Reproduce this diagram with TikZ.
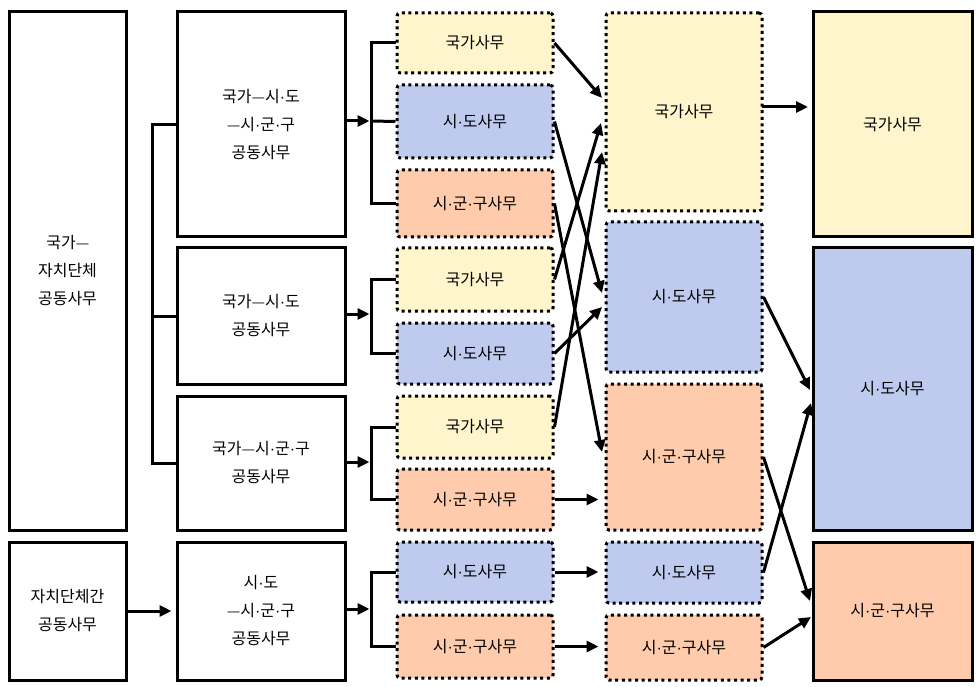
\documentclass[tikz,border=0pt]{standalone}
\usepackage{fontspec}
\setmainfont{Noto Sans CJK KR}
\newfontfamily\latf{Liberation Sans}
\usetikzlibrary{arrows.meta}
\definecolor{yel}{HTML}{FFF5CC}
\definecolor{blu}{HTML}{BFCBEE}
\definecolor{ora}{HTML}{FECCAC}
\newcommand\kdot{{\latf ·}}
\newcommand\kdash{\hspace{0.8pt}\raisebox{1pt}{\fontsize{12}{12}\selectfont\latf —}\hspace{0.8pt}}
\tikzset{
  base/.style={rectangle, inner sep=0pt, align=center, font=\fontsize{16}{28}\selectfont},
  solidbox/.style={base, draw=black, line width=3pt},
  dotbox/.style={base, draw=black, line width=3pt, dash pattern=on 3pt off 3.6pt, rounded corners=3pt},
  Y/.style={dotbox, fill=yel},
  B/.style={dotbox, fill=blu},
  O/.style={dotbox, fill=ora},
  conn/.style={line width=3pt},
  arr/.style={line width=3pt, -{Triangle[length=12pt,width=11pt]}},
}
\newcommand\mkbox[7]{\node[#1, minimum width={(#5-#3)*1pt}, minimum height={(#6-#4)*1pt}] (#2) at ({(#3+#5)/2},{(#4+#6)/2}) {#7};}
\begin{document}
\begin{tikzpicture}[x=1pt,y=-1pt]
\useasboundingbox (0,0) rectangle (980,687);
% column 1
\mkbox{solidbox}{A}{9}{12}{126}{530}{국가\kdash\\자치단체\\공동사무}
\mkbox{solidbox}{Bx}{9}{542}{126}{680}{자치단체간\\공동사무}
% column 2
\mkbox{solidbox}{C1}{177}{12}{345}{237}{국가\kdash 시\kdot 도\\\kdash 시\kdot 군\kdot 구\\공동사무}
\mkbox{solidbox}{C2}{177}{248}{345}{384}{국가\kdash 시\kdot 도\\공동사무}
\mkbox{solidbox}{C3}{177}{396}{345}{530}{국가\kdash 시\kdot 군\kdot 구\\공동사무}
\mkbox{solidbox}{C4}{177}{542}{345}{680}{시\kdot 도\\\kdash 시\kdot 군\kdot 구\\공동사무}
% column 3
\mkbox{Y}{D1}{397}{13}{553}{73}{국가사무}
\mkbox{B}{D2}{397}{85}{553}{158}{시\kdot 도사무}
\mkbox{O}{D3}{397}{170}{553}{237}{시\kdot 군\kdot 구사무}
\mkbox{Y}{D4}{397}{248}{553}{311}{국가사무}
\mkbox{B}{D5}{397}{323}{553}{384}{시\kdot 도사무}
\mkbox{Y}{D6}{397}{396}{553}{458}{국가사무}
\mkbox{O}{D7}{397}{469}{553}{530}{시\kdot 군\kdot 구사무}
\mkbox{B}{D8}{397}{542}{553}{602}{시\kdot 도사무}
\mkbox{O}{D9}{397}{615}{553}{678}{시\kdot 군\kdot 구사무}
% column 4
\mkbox{Y}{E1}{606}{13}{762}{211}{국가사무}
\mkbox{B}{E2}{606}{222}{762}{372}{시\kdot 도사무}
\mkbox{O}{E3}{606}{384}{762}{530}{시\kdot 군\kdot 구사무}
\mkbox{B}{E4}{606}{542}{762}{603}{시\kdot 도사무}
\mkbox{O}{E5}{606}{615}{762}{680}{시\kdot 군\kdot 구사무}
% column 5
\mkbox{solidbox, fill=yel}{F1}{813}{12}{972}{237}{국가사무}
\mkbox{solidbox, fill=blu}{F2}{813}{248}{972}{530}{시\kdot 도사무}
\mkbox{solidbox, fill=ora}{F3}{813}{542}{972}{680}{시\kdot 군\kdot 구사무}
% junction coordinates
\coordinate (j1) at (371,121);
\coordinate (j2) at (371,314);
\coordinate (j3) at (371,462);
\coordinate (j4) at (371,609);
\coordinate (k0) at (152,124.5);
% left bracket
\draw[conn] (C1.west) -- (k0) |- (C3.west);
\draw[conn] (C2.west) -- (k0 |- C2.west);
% brackets to column 3
\draw[conn] (D1.west) -| (j1) |- (D3.west);
\draw[conn] (j1) -- (D2.west);
\draw[conn] (D4.west) -| (j2) |- (D5.west);
\draw[conn] (D6.west) -| (j3) |- (D7.west);
\draw[conn] (D8.west) -| (j4) |- (D9.west);
\draw[arr] (C1.east |- j1) -- ([xshift=-1.5pt]j1);
\draw[arr] (C2.east |- j2) -- ([xshift=-1.5pt]j2);
\draw[arr] (C3.east |- j3) -- ([xshift=-1.5pt]j3);
\draw[arr] (C4.east |- j4) -- ([xshift=-1.5pt]j4);
\draw[arr] (Bx.east) -- ([xshift=-4pt]C4.west |- Bx.east);
% column 3 -> column 4
\coordinate (t1) at (602,98);
\coordinate (t2) at (602,293);
\coordinate (t3) at (602,452);
\coordinate (t4) at (601,123);
\coordinate (t5) at (602,307);
\coordinate (t6) at (602,152);
\draw[arr] (D1.east) -- (t1);
\draw[arr] (D2.east) -- (t2);
\draw[arr] (D3.east) -- (t3);
\draw[arr] (D4.east) -- (t4);
\draw[arr] (D5.east) -- (t5);
\draw[arr] (D6.east) -- (t6);
\draw[arr] (D7.east) -- ([xshift=-6pt]E3.west |- D7.east);
\draw[arr] (D8.east) -- ([xshift=-6pt]E4.west |- D8.east);
\draw[arr] (D9.east) -- ([xshift=-6pt]E5.west |- D9.east);
% column 4 -> column 5
\coordinate (s1) at (762,107);
\coordinate (u1) at (808,107);
\coordinate (u2) at (810,390);
\coordinate (u3) at (811,403);
\coordinate (u4) at (810,601);
\coordinate (u5) at (811,617);
\draw[arr] (s1) -- (u1);
\draw[arr] (E2.east) -- (u2);
\draw[arr] (E4.east) -- (u3);
\draw[arr] (E3.east) -- (u4);
\draw[arr] (E5.east) -- (u5);
\end{tikzpicture}
\end{document}
